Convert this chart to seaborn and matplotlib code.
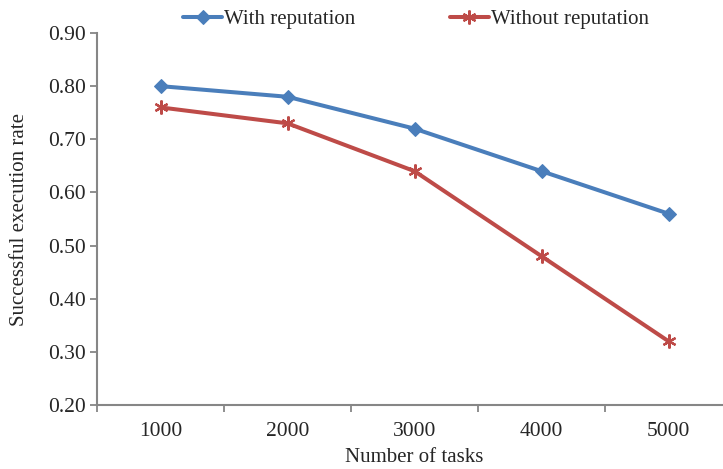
import pandas as pd
import matplotlib
matplotlib.use("Agg")
import matplotlib.pyplot as plt
from matplotlib.ticker import FixedLocator, FormatStrFormatter
import seaborn as sns

# values
tasks = ["1000", "2000", "3000", "4000", "5000"]
with_rep = [0.80, 0.78, 0.72, 0.64, 0.56]
without_rep = [0.76, 0.73, 0.64, 0.48, 0.32]
series_names = ["With reputation", "Without reputation"]

df = pd.DataFrame({
    "tasks": tasks * 2,
    "rate": with_rep + without_rep,
    "series": [series_names[0]] * len(tasks) + [series_names[1]] * len(tasks),
})

sns.set_style("white")
plt.rcParams["font.family"] = ["Liberation Serif", "DejaVu Serif"]

fig = plt.figure(figsize=(7.23, 4.69), dpi=100)
# plot area runs a little past the right edge, as in the original
ax = fig.add_axes([97 / 723, 1 - 405 / 469, 635 / 723, 372 / 469])

blue = "#4A7EBB"
red = "#BE4B48"

sns.lineplot(data=df[df["series"] == series_names[0]], x="tasks", y="rate",
             color=blue, marker="D", markersize=7.5, markeredgecolor=blue,
             linewidth=2.9, sort=False, label=series_names[0], ax=ax)
sns.lineplot(data=df[df["series"] == series_names[1]], x="tasks", y="rate",
             color=red, marker=(6, 2, 0), markersize=10, markeredgecolor=red,
             markeredgewidth=1.6, linewidth=2.9, sort=False,
             label=series_names[1], ax=ax)

ax.set_xlim(-0.5, len(tasks) - 0.5)
ax.set_ylim(0.20, 0.90)
ax.yaxis.set_major_locator(FixedLocator([0.2 + 0.1 * i for i in range(8)]))
ax.yaxis.set_major_formatter(FormatStrFormatter("%.2f"))
ax.xaxis.set_minor_locator(FixedLocator([i - 0.5 for i in range(len(tasks) + 1)]))

for s in ["top", "right"]:
    ax.spines[s].set_visible(False)
for s in ["left", "bottom"]:
    ax.spines[s].set_color("#868686")
    ax.spines[s].set_linewidth(1.5)

ax.tick_params(axis="y", which="major", direction="out", length=5, width=1.3,
               color="#868686", labelsize=15.5, pad=3, left=True)
ax.tick_params(axis="x", which="major", length=0, labelsize=15.5, pad=12)
ax.tick_params(axis="x", which="minor", direction="out", length=5, width=1.3,
               color="#868686", bottom=True)

ax.set_xlabel("Number of tasks", fontsize=15, labelpad=5)
ax.set_ylabel("Successful execution rate", fontsize=15, labelpad=14)

handles, labels = ax.get_legend_handles_labels()
ax.legend(handles, labels, loc="upper left", bbox_to_anchor=(174 / 723, 1.0),
          bbox_transform=fig.transFigure, ncol=2, frameon=False, fontsize=15,
          handlelength=1.85, handletextpad=0.1, columnspacing=4.55,
          borderaxespad=0.05)

fig.savefig("out.png", dpi=100)
